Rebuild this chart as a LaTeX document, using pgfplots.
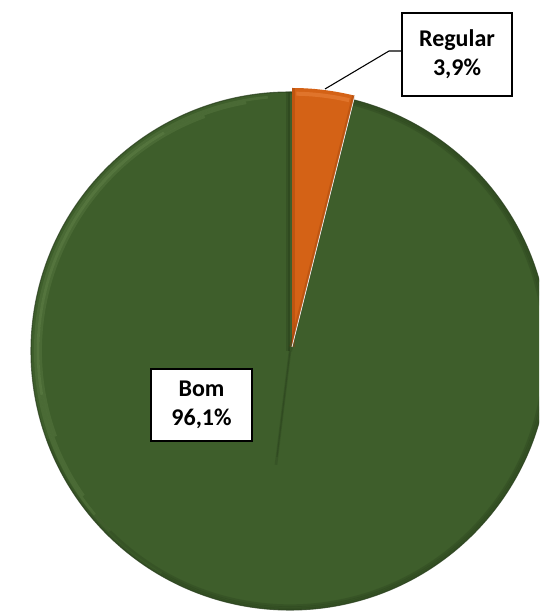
\documentclass[border=0pt]{standalone}
\usepackage{pgfplots}
\pgfplotsset{compat=1.18}
\usepackage{pgfplotstable}
\usepackage{fontspec}
\setmainfont{Carlito}

\definecolor{bom}{RGB}{62,94,43}
\definecolor{bomdark}{RGB}{36,58,24}
\definecolor{bomlight}{RGB}{130,165,100}
\definecolor{reg}{RGB}{212,98,22}
\definecolor{regdark}{RGB}{150,62,10}
\definecolor{reglight}{RGB}{240,140,70}

% pie data (percent)
\pgfplotstableread{
label   value
Regular 3.9
Bom     96.1
}\piedata

% arc stroke round the Bom centre: radius, start, end
\newcommand\rim[4][]{\draw[#1] (axis cs:290,262) ++(#3:#2) arc[start angle=#3, end angle=#4, radius=#2];}

\begin{document}
\begin{tikzpicture}
\useasboundingbox (0,0) rectangle (404.25pt,459.75pt);
\pgfplotstablegetelem{0}{value}\of\piedata \let\vreg\pgfplotsretval
\pgfplotstablegetelem{1}{value}\of\piedata \let\vbom\pgfplotsretval
% slices start at 12 o'clock and run clockwise
\pgfmathsetmacro\aend{90-3.6*\vreg}
\pgfmathsetmacro\bend{\aend-3.6*\vbom+720}
\pgfmathsetmacro\bmid{\aend-1.8*\vbom+360}
\def\R{194.25pt}
\begin{axis}[
    at={(0,0)}, anchor=south west,
    x=0.75pt, y=0.75pt,
    xmin=0, xmax=539, ymin=0, ymax=613,
    hide axis,
]
% Bom
\fill[bom] (axis cs:290,262) -- ++(90:\R) arc[start angle=90, end angle=\bend, radius=\R] -- cycle;
% rim highlight (top left) and shadow (right, bottom)
\rim[bomlight, line width=2pt, opacity=0.18]{187pt}{110}{200}
\rim[bomlight, line width=2pt, opacity=0.18]{189pt}{100}{215}
\rim[bomlight, line width=2pt, opacity=0.18]{191pt}{95}{225}
\rim[bomlight, line width=2pt, opacity=0.18]{189pt}{120}{190}
\rim[bomdark, line width=2pt, opacity=0.25]{191pt}{220}{445}
\rim[bomdark, line width=2pt, opacity=0.25]{192.5pt}{240}{440}
\rim[bomdark, line width=2pt, opacity=0.25]{193.5pt}{200}{450}
\rim[bomdark, line width=0.8pt, opacity=0.7]{\R}{90}{\bend}
% bevel ridge and edges
\draw[bomdark, line width=2pt, opacity=0.25] (axis cs:290,262) -- ++(\bmid:86pt);
\draw[bomdark, line width=0.8pt, opacity=0.35] (axis cs:290,262) -- ++(\bmid:80pt);
\draw[bomdark, line width=3pt, opacity=0.3] ([xshift=-1.5pt]axis cs:290,262) -- ++(90:\R);
\draw[bomdark, line width=1.5pt, opacity=0.35] ([xshift=-0.7pt]axis cs:290,262) -- ++(90:\R);
\draw[bomdark, line width=3pt, opacity=0.3] (axis cs:290,262) -- ++(\aend:\R);
% Regular (exploded)
\fill[reg] (axis cs:292,266) -- ++(\aend:\R) arc[start angle=\aend, end angle=90, radius=\R] -- cycle;
\draw[reglight, line width=3pt, opacity=0.45] (axis cs:292,266) ++(\aend+1:190pt) arc[start angle=\aend+1, end angle=89, radius=190pt];
\draw[regdark, line width=2pt, opacity=0.35] ([xshift=1pt]axis cs:292,266) -- ++(90:\R);
\draw[regdark, line width=2pt, opacity=0.35] ([shift={(\aend+90:1pt)}]axis cs:292,266) -- ++(\aend:\R);
\draw[white!85!gray, line width=0.6pt] (axis cs:292,266) -- ++(\aend:\R);
% labels
\draw[black, line width=0.8pt] (axis cs:325,524) -- (axis cs:389,562) -- (axis cs:402,562);
\node[draw=black, line width=1.1pt, fill=white, align=center, inner sep=0pt,
      minimum width=82.5pt, minimum height=62pt,
      font=\bfseries\fontsize{18}{22}\selectfont] at (axis cs:457,558.5) {Regular\\3,9\%};
\node[draw=black, line width=1.1pt, fill=white, align=center, inner sep=0pt,
      minimum width=76pt, minimum height=54pt,
      font=\bfseries\fontsize{18}{22}\selectfont] at (axis cs:201.5,208) {Bom\\96,1\%};
\end{axis}
\end{tikzpicture}
\end{document}
